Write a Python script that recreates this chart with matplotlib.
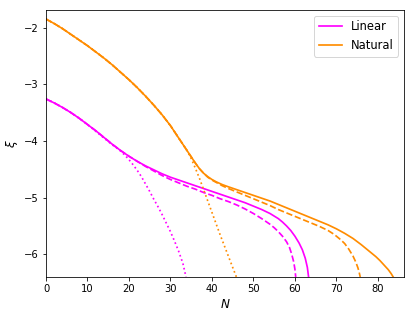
import numpy as np
import matplotlib
matplotlib.use("Agg")
import matplotlib.pyplot as plt

# Linear (magenta): solid, dashed, dotted
N_lin = [0, 2, 4, 6, 8, 10, 12, 14, 16, 18, 20, 22, 24, 26, 28, 30, 32, 34, 36, 38, 40, 42,
         44, 46, 48, 50, 52, 54, 56, 57, 58, 59, 60, 61, 61.8, 62.5, 63.0, 63.3]
xi_lin = [-3.26, -3.33, -3.41, -3.50, -3.60, -3.71, -3.82, -3.94, -4.06, -4.17, -4.27, -4.36,
          -4.44, -4.51, -4.58, -4.64, -4.69, -4.74, -4.79, -4.84, -4.89, -4.94, -4.99, -5.04,
          -5.09, -5.15, -5.21, -5.28, -5.37, -5.43, -5.50, -5.58, -5.68, -5.80, -5.92, -6.07,
          -6.23, -6.40]

N_lin_dash = [0, 2, 4, 6, 8, 10, 12, 14, 16, 18, 20, 22, 24, 26, 28, 30, 32, 34, 36, 38, 40,
              42, 44, 46, 48, 50, 52, 54, 55, 56, 57, 58, 58.7, 59.2, 59.7, 60.0, 60.2]
xi_lin_dash = [-3.26, -3.33, -3.41, -3.50, -3.60, -3.71, -3.82, -3.94, -4.06, -4.17, -4.27,
               -4.36, -4.45, -4.53, -4.61, -4.68, -4.74, -4.80, -4.85, -4.91, -4.96, -5.02,
               -5.07, -5.13, -5.20, -5.28, -5.37, -5.47, -5.53, -5.60, -5.68, -5.78, -5.88,
               -5.99, -6.13, -6.26, -6.40]

N_lin_dot = [0, 2, 4, 6, 8, 10, 12, 13, 14, 15, 16, 17, 18, 19, 20, 21, 22, 23, 24, 25, 26,
             27, 28, 29, 30, 31, 32, 33, 33.75]
xi_lin_dot = [-3.26, -3.33, -3.41, -3.50, -3.60, -3.71, -3.83, -3.89, -3.95, -4.01, -4.07,
              -4.12, -4.18, -4.25, -4.33, -4.42, -4.52, -4.63, -4.76, -4.89, -5.03, -5.16,
              -5.30, -5.45, -5.60, -5.77, -5.95, -6.16, -6.40]

# Natural (orange): solid, dashed, dotted
N_nat = [0, 2, 4, 6, 8, 10, 12, 14, 16, 18, 20, 22, 24, 26, 28, 30, 32, 33, 34, 35, 36, 37,
         38, 39, 40, 41, 42.5, 44, 46, 48, 50, 52, 54, 56, 58, 60, 62, 64, 66, 68, 70, 72, 74,
         76, 78, 79.5, 80.5, 81.5, 82.5, 83.2, 83.7]
xi_nat = [-1.85, -1.93, -2.02, -2.12, -2.22, -2.32, -2.43, -2.54, -2.66, -2.79, -2.92, -3.06,
          -3.21, -3.37, -3.54, -3.73, -3.95, -4.06, -4.17, -4.28, -4.39, -4.49, -4.57, -4.63,
          -4.68, -4.72, -4.77, -4.81, -4.86, -4.91, -4.96, -5.01, -5.06, -5.12, -5.18, -5.24,
          -5.30, -5.36, -5.42, -5.48, -5.55, -5.63, -5.72, -5.83, -5.95, -6.04, -6.11, -6.19,
          -6.27, -6.34, -6.40]

N_nat_dash = [0, 2, 4, 6, 8, 10, 12, 14, 16, 18, 20, 22, 24, 26, 28, 30, 32, 33, 34, 35, 36,
              37, 38, 39, 40, 41, 42.5, 44, 46, 48, 50, 52, 54, 56, 58, 60, 62, 64, 66, 68,
              69.5, 71, 72, 73, 74, 74.7, 75.2, 75.5, 75.75]
xi_nat_dash = [-1.85, -1.93, -2.02, -2.12, -2.22, -2.32, -2.43, -2.54, -2.66, -2.79, -2.92,
               -3.06, -3.21, -3.37, -3.54, -3.73, -3.95, -4.06, -4.17, -4.28, -4.39, -4.49,
               -4.57, -4.64, -4.69, -4.73, -4.79, -4.84, -4.90, -4.96, -5.02, -5.08, -5.14,
               -5.21, -5.27, -5.33, -5.39, -5.45, -5.51, -5.58, -5.65, -5.74, -5.81, -5.91,
               -6.03, -6.14, -6.24, -6.32, -6.40]

N_nat_dot = [0, 2, 4, 6, 8, 10, 12, 14, 16, 18, 20, 22, 24, 26, 28, 30, 32, 33, 34, 35, 36,
             37, 38, 39, 40, 41, 42, 43, 44, 45, 45.9]
xi_nat_dot = [-1.85, -1.93, -2.02, -2.12, -2.22, -2.32, -2.43, -2.54, -2.66, -2.79, -2.92,
              -3.06, -3.21, -3.37, -3.54, -3.73, -3.95, -4.06, -4.17, -4.31, -4.48, -4.66,
              -4.86, -5.06, -5.26, -5.46, -5.66, -5.85, -6.04, -6.23, -6.40]

dpi = 72
lw = 1.7
fig = plt.figure(figsize=(415 / dpi, 317 / dpi), dpi=dpi)
ax = fig.add_axes([46 / 415, 1 - 277 / 317, 358 / 415, 267 / 317])

ax.plot(N_lin, xi_lin, color='magenta', lw=lw, label='Linear')
ax.plot(N_lin_dash, xi_lin_dash, color='magenta', lw=lw, linestyle='--')
ax.plot(N_lin_dot, xi_lin_dot, color='magenta', lw=lw, linestyle=':')

ax.plot(N_nat, xi_nat, color='darkorange', lw=lw, label='Natural')
ax.plot(N_nat_dash, xi_nat_dash, color='darkorange', lw=lw, linestyle='--')
ax.plot(N_nat_dot, xi_nat_dot, color='darkorange', lw=lw, linestyle=':')

ax.set_xlim(0, 86.3)
ax.set_ylim(-6.4, -1.69)
ax.set_xticks(np.arange(0, 81, 10))
ax.set_yticks([-6, -5, -4, -3, -2])
ax.set_xlabel(r'$N$', fontsize=12)
ax.set_ylabel(r'$\xi$', fontsize=12)
ax.legend(loc='upper right', fontsize=11.5)

fig.savefig('out.png', dpi=dpi)
